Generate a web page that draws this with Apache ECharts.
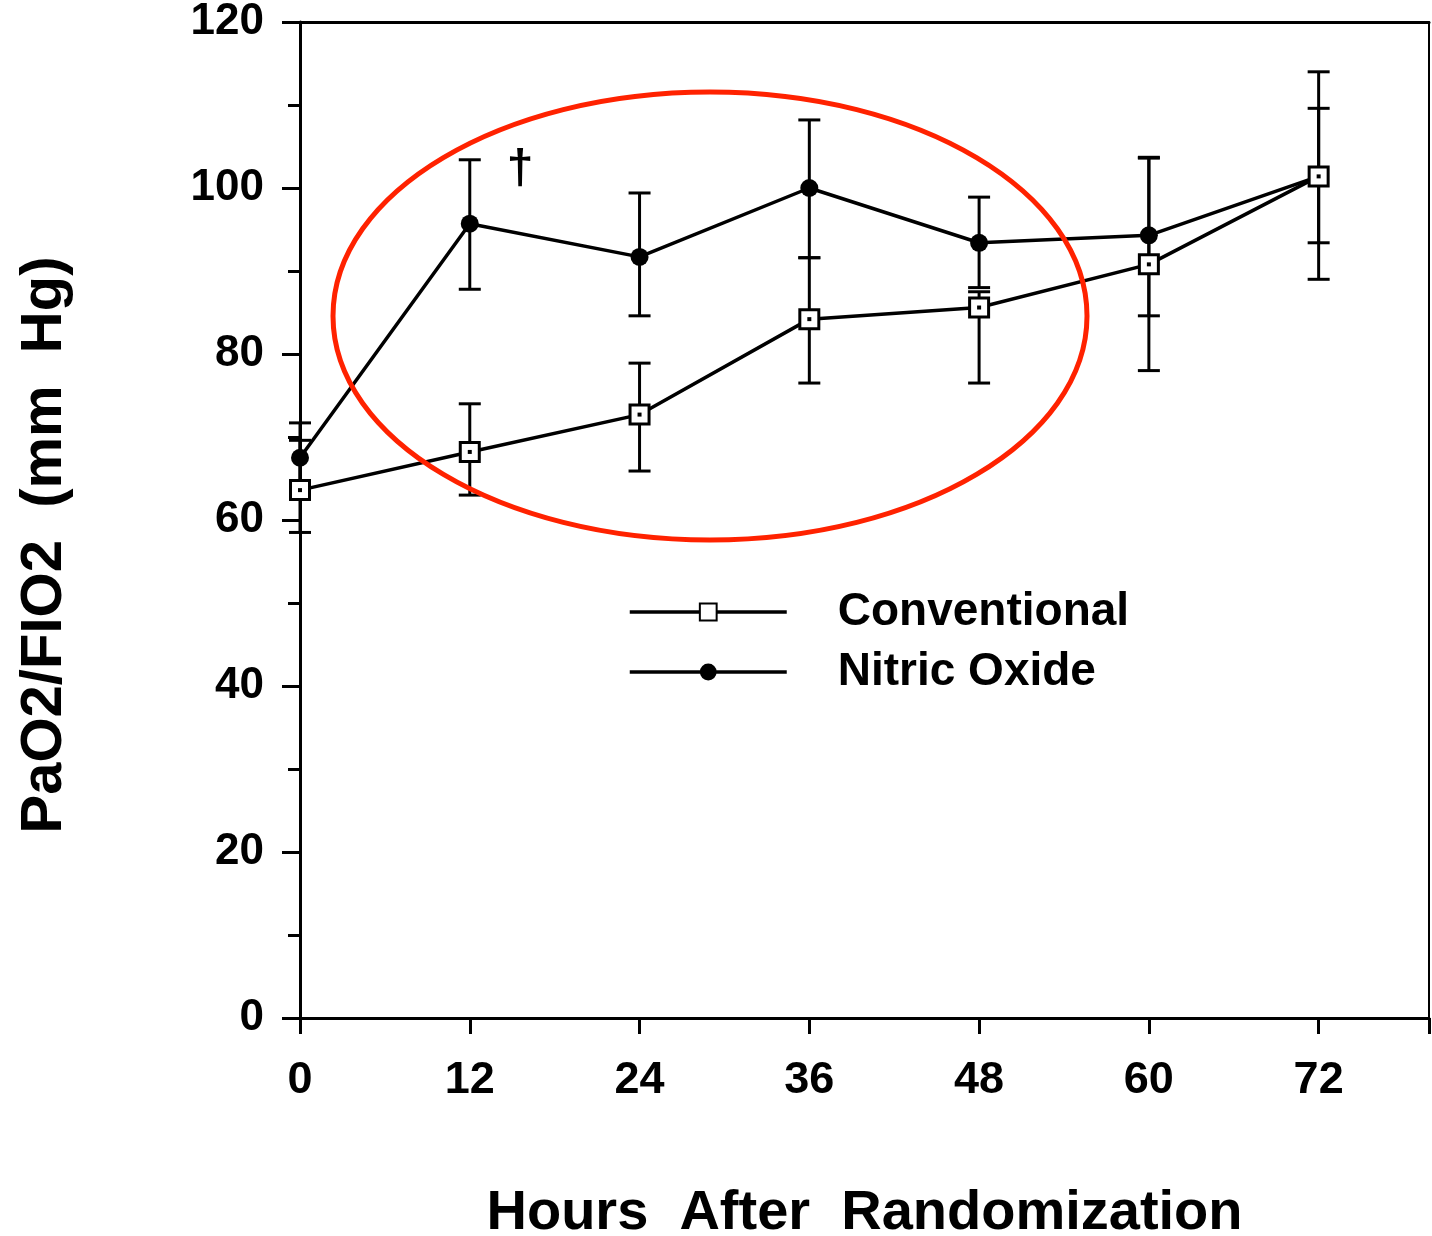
<!DOCTYPE html>
<html>
<head>
<meta charset="utf-8">
<script src="https://cdn.jsdelivr.net/npm/echarts@6/dist/echarts.min.js"></script>
<style>
html,body{margin:0;padding:0;background:#fff;}
#chart{width:1432px;height:1236px;}
</style>
</head>
<body>
<div id="chart"></div>
<script>
// ---- data ----
const hours = [0, 12, 24, 36, 48, 60, 72];
const conventional = [63.6, 68.2, 72.7, 84.2, 85.6, 90.8, 101.4];
const conventionalLow = [58.5, 63.0, 65.9, 76.5, 76.5, 78.0, 89.0];
const conventionalHigh = [69.6, 74.0, 78.9, 91.6, 87.5, 103.6, 114.0];
const nitricOxide = [67.5, 95.7, 91.7, 100.0, 93.4, 94.3, 101.4];
const nitricOxideLow = [63.3, 87.8, 84.6, 91.6, 88.0, 84.6, 93.4];
const nitricOxideHigh = [71.7, 103.4, 99.4, 108.2, 98.9, 103.7, 109.6];
const yTicks = [0, 20, 40, 60, 80, 100, 120];
const xTicks = [0, 12, 24, 36, 48, 60, 72];

const FONT = 'Liberation Sans';
const chart = echarts.init(document.getElementById('chart'), null, {renderer: 'canvas'});

const pair = (xs, ys) => xs.map((x, i) => [x, ys[i]]);
const bars = (xs, lo, hi) => xs.map((x, i) => [x, lo[i], hi[i]]);

function errorBar(params, api) {
  const x = api.value(0), lo = api.value(1), hi = api.value(2);
  const p1 = api.coord([x, hi]), p2 = api.coord([x, lo]);
  const hw = 11;
  const st = {stroke: '#000', lineWidth: 3};
  return {type: 'group', children: [
    {type: 'line', shape: {x1: p1[0], y1: p1[1], x2: p2[0], y2: p2[1]}, style: st},
    {type: 'line', shape: {x1: p1[0] - hw, y1: p1[1], x2: p1[0] + hw, y2: p1[1]}, style: st},
    {type: 'line', shape: {x1: p2[0] - hw, y1: p2[1], x2: p2[0] + hw, y2: p2[1]}, style: st}
  ]};
}
function innerDot(params, api) {
  const p = api.coord([api.value(0), api.value(1)]);
  return {type: 'rect', shape: {x: p[0] - 2, y: p[1] - 2, width: 4, height: 4}, style: {fill: '#000'}};
}

chart.setOption({
  backgroundColor: '#fff',
  animation: false,
  grid: {left: 300, top: 22, width: 1129, height: 996, containLabel: false, outerBoundsMode: 'none'},
  legend: {
    data: ['Conventional', 'Nitric Oxide'],
    orient: 'vertical',
    left: 628, top: 589, padding: 0,
    itemWidth: 157, itemHeight: 21, itemGap: 14,
    lineStyle: {color: '#000', width: 3.5},
    textStyle: {fontFamily: FONT, fontWeight: 'bold', fontSize: 46, color: '#000', padding: [0, 0, 0, 46]}
  },
  xAxis: [{
    type: 'value', min: 0, max: 79.8, interval: 12,
    name: 'Hours  After  Randomization', nameLocation: 'middle', nameGap: 168,
    nameTextStyle: {fontFamily: FONT, fontWeight: 'bold', fontSize: 56, color: '#000'},
    axisLine: {show: true, lineStyle: {color: '#000', width: 3}},
    axisTick: {show: true, length: 16, lineStyle: {color: '#000', width: 3}},
    axisLabel: {
      margin: 40, fontFamily: FONT, fontWeight: 'bold', fontSize: 45, color: '#000',
      formatter: v => xTicks.includes(v) ? String(v) : ''
    },
    splitLine: {show: false}
  }, {
    type: 'value', position: 'top', min: 0, max: 79.8,
    axisLine: {show: true, onZero: false, lineStyle: {color: '#000', width: 3}},
    axisTick: {show: false}, axisLabel: {show: false}, splitLine: {show: false}
  }],
  yAxis: [{
    type: 'value', min: 0, max: 120, interval: 20,
    name: 'PaO2/FIO2  (mm  Hg)', nameLocation: 'middle', nameGap: 226,
    nameTextStyle: {fontFamily: FONT, fontWeight: 'bold', fontSize: 58, color: '#000', padding: [0, 50, 0, 0]},
    axisLine: {show: true, lineStyle: {color: '#000', width: 3}},
    axisTick: {show: true, length: 18, lineStyle: {color: '#000', width: 3}},
    minorTick: {show: true, splitNumber: 2, length: 12, lineStyle: {color: '#000', width: 3}},
    axisLabel: {
      margin: 36, fontFamily: FONT, fontWeight: 'bold', fontSize: 44, color: '#000',
      formatter: v => yTicks.includes(v) ? String(v) : ''
    },
    splitLine: {show: false}
  }, {
    type: 'value', position: 'right', min: 0, max: 120,
    axisLine: {show: true, onZero: false, lineStyle: {color: '#000', width: 2}},
    axisTick: {show: false}, axisLabel: {show: false}, splitLine: {show: false}
  }],
  series: [
    {
      name: 'errConv', type: 'custom', z: 1, renderItem: errorBar, clip: false,
      encode: {x: 0, y: [1, 2]}, data: bars(hours, conventionalLow, conventionalHigh), silent: true
    },
    {
      name: 'errNO', type: 'custom', z: 1, renderItem: errorBar, clip: false,
      encode: {x: 0, y: [1, 2]}, data: bars(hours, nitricOxideLow, nitricOxideHigh), silent: true
    },
    {
      name: 'Conventional', type: 'line', z: 3, clip: false,
      data: pair(hours, conventional),
      symbol: 'rect', symbolSize: 19,
      itemStyle: {color: '#fff', borderColor: '#000', borderWidth: 3},
      lineStyle: {color: '#000', width: 3.5}
    },
    {
      name: 'Nitric Oxide', type: 'line', z: 2, clip: false,
      data: pair(hours, nitricOxide),
      symbol: 'circle', symbolSize: 18,
      itemStyle: {color: '#000'},
      lineStyle: {color: '#000', width: 3.5}
    },
    {
      name: 'dots', type: 'custom', z: 4, renderItem: innerDot, clip: false,
      encode: {x: 0, y: 1}, data: pair(hours, conventional), silent: true
    }
  ],
  graphic: [
    {
      type: 'ellipse', z: 100, silent: true,
      shape: {cx: 710, cy: 316, rx: 377, ry: 224},
      style: {fill: 'none', stroke: '#ff2200', lineWidth: 5}
    },
    {
      type: 'text', z: 100, x: 520, y: 170,
      style: {text: '†', font: 'bold 48px "Liberation Sans"', fill: '#000', textAlign: 'center', textVerticalAlign: 'middle'}
    }
  ]
});
</script>
</body>
</html>
